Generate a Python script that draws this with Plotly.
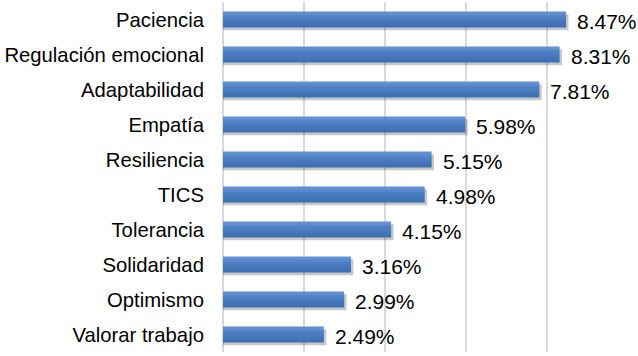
import plotly.graph_objects as go

categories = ["Paciencia", "Regulación emocional", "Adaptabilidad", "Empatía", "Resiliencia",
              "TICS", "Tolerancia", "Solidaridad", "Optimismo", "Valorar trabajo"]
values = [8.47, 8.31, 7.81, 5.98, 5.15, 4.98, 4.15, 3.16, 2.99, 2.49]
labels = [f"{v:.2f}%" for v in values]

W = 0.46
band_colors = ["#6090D1", "#5787CA", "#4F7FC3", "#4879BD", "#4274B8", "#3D6FB3"]
n = len(band_colors)
FONT = "Liberation Sans, Arial, sans-serif"

fig = go.Figure()
# shadow
fig.add_trace(go.Bar(
    y=categories, x=[v + 0.06 for v in values], orientation="h",
    width=W, offset=-W / 2 + 0.08,
    marker=dict(color="rgba(0,0,0,0.22)", line=dict(width=0)),
    hoverinfo="skip", showlegend=False,
))
for i, c in enumerate(band_colors):
    fig.add_trace(go.Bar(
        y=categories, x=values, orientation="h",
        width=W / n + (0.02 if i < n - 1 else 0), offset=-W / 2 + i * W / n,
        marker=dict(color=c, line=dict(width=0)),
        showlegend=False,
    ))

for cat, v, t in zip(categories, values, labels):
    fig.add_annotation(x=v, y=cat, text=t, showarrow=False, xanchor="left",
                       xshift=9, yshift=-2,
                       font=dict(family=FONT, size=21, color="#000000"))

fig.update_layout(
    width=638, height=356,
    margin=dict(l=223, r=10, t=2, b=4),
    barmode="overlay",
    plot_bgcolor="white", paper_bgcolor="white",
    font=dict(family=FONT, size=20.3, color="#000000"),
    xaxis=dict(range=[0, 10], dtick=2, showgrid=True, gridcolor="#D9D9D9", gridwidth=2,
               zeroline=True, zerolinecolor="#D9D9D9", zerolinewidth=2,
               showticklabels=False, ticks="", fixedrange=True),
    yaxis=dict(autorange="reversed", showgrid=False, ticks="outside", ticklen=14,
               tickcolor="rgba(0,0,0,0)", showline=False,
               tickfont=dict(family=FONT, size=20.3, color="#000000")),
)

fig.write_html("out.html")
